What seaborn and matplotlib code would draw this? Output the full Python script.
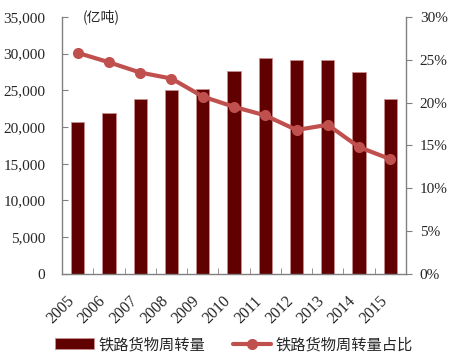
import matplotlib
matplotlib.use("Agg")
import matplotlib.pyplot as plt
import seaborn as sns
import pandas as pd
from matplotlib.ticker import FuncFormatter, MultipleLocator

# data
years = ['2005', '2006', '2007', '2008', '2009', '2010',
         '2011', '2012', '2013', '2014', '2015']
turnover = [20726, 21954, 23797, 25106, 25239, 27644,
            29466, 29187, 29174, 27530, 23754]
share = [25.8, 24.7, 23.5, 22.8, 20.7, 19.5, 18.5, 16.8, 17.4, 14.8, 13.4]

bar_name = '铁路货物周转量'
line_name = '铁路货物周转量占比'

df = pd.DataFrame({'year': years, 'turnover': turnover, 'share': share})
df['pos'] = range(len(years))

sns.set_style("white")
plt.rcParams['font.family'] = ['Liberation Serif', 'Noto Sans CJK SC', 'DejaVu Sans']

fig = plt.figure(figsize=(4.5, 3.59), dpi=100)
ax = fig.add_axes([0.138, 0.237, 0.764, 0.716])

sns.barplot(data=df, x='year', y='turnover', color='#600000', width=0.42,
            saturation=1, edgecolor='#C89090', linewidth=0.6, ax=ax, label=bar_name)
ax.set_xlim(-0.5, len(years) - 0.5)
ax.set_ylim(0, 35000)
ax.yaxis.set_major_locator(MultipleLocator(5000))
ax.yaxis.set_major_formatter(FuncFormatter(lambda v, p: f'{int(v):,}'))
ax.set_xlabel('')
ax.set_ylabel('')

ax2 = ax.twinx()
sns.lineplot(data=df, x='pos', y='share', color='#C0504D', linewidth=3,
             marker='o', markersize=8, markeredgewidth=0, ax=ax2, label=line_name)
ax2.set_ylim(0, 30)
ax2.yaxis.set_major_locator(MultipleLocator(5))
ax2.yaxis.set_major_formatter(FuncFormatter(lambda v, p: f'{int(v)}%'))
ax2.set_ylabel('')
ax2.set_xlim(-0.5, len(years) - 0.5)

for a in (ax, ax2):
    for s in a.spines.values():
        s.set_color('#808080')
        s.set_linewidth(1)
    a.spines['top'].set_visible(False)
ax.spines['right'].set_visible(False)
ax2.spines['left'].set_visible(False)
ax2.spines['bottom'].set_visible(False)

ax.tick_params(axis='y', direction='in', length=4, color='#808080',
               labelsize=11, pad=12, left=True)
ax2.tick_params(axis='y', direction='out', length=4, color='#808080',
                labelsize=11, pad=6, right=True)
ax.set_xticks(range(len(years)))
ax.set_xticks([i - 0.5 for i in range(len(years) + 1)], minor=True)
ax.tick_params(axis='x', which='major', length=0, labelsize=11.5, pad=14)
ax.tick_params(axis='x', which='minor', direction='in', length=4,
               color='#808080', bottom=True)
plt.setp(ax.get_xticklabels(), rotation=45, ha='right', va='top')

ax.text(0.06, 1.0, '(亿吨)', transform=ax.transAxes, fontsize=10,
        family=['Noto Sans CJK SC'], ha='left', va='center')

h1, l1 = ax.get_legend_handles_labels()
h2, l2 = ax2.get_legend_handles_labels()
if ax2.get_legend():
    ax2.get_legend().remove()
if ax.get_legend():
    ax.get_legend().remove()
fig.legend(h1 + h2, l1 + l2, loc='center', bbox_to_anchor=(0.52, 0.04), ncol=2,
           frameon=False, handlelength=2.5, handletextpad=0.3,
           columnspacing=1.8, prop={'family': ['Noto Sans CJK SC'], 'size': 11})

fig.savefig('out.png', dpi=100)
